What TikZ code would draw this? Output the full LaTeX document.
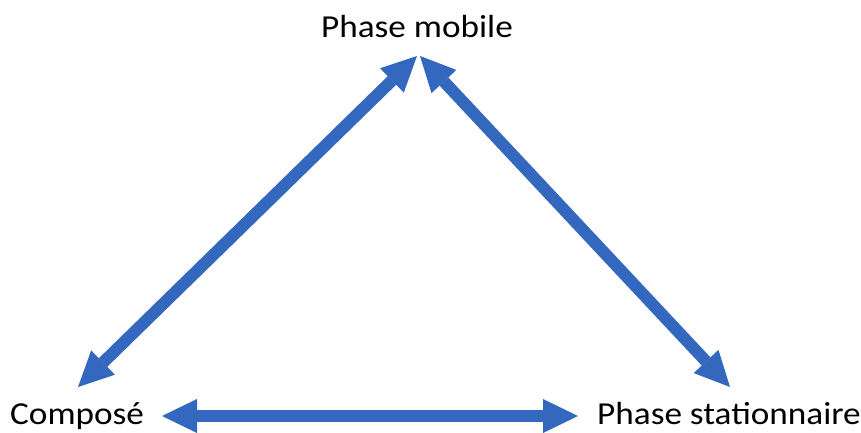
\documentclass[tikz,border=0pt]{standalone}
\usepackage{fontspec}
\setmainfont{Carlito}[FakeStretch=1.1]
\usetikzlibrary{arrows.meta}
\definecolor{arrowblue}{RGB}{52,104,190}
\tikzset{
  lbl/.style={font=\fontsize{32}{37}\selectfont, inner sep=0pt, text=black},
  dbl/.style={draw=arrowblue, line width=12pt,
    {Triangle[length=35pt,width=34pt,line width=0pt]}-{Triangle[length=35pt,width=34pt,line width=0pt]}}
}
\begin{document}
\begin{tikzpicture}[x=1pt,y=-1pt]
\useasboundingbox (0,0) rectangle (861,433);
\node[lbl, anchor=base] (pm) at (417,38) {Phase mobile};
\node[lbl, anchor=base west] (co) at (10,424) {Composé};
\node[lbl, anchor=base west] (ps) at (597,424) {Phase stationnaire};
\coordinate (pmL) at (417,56);
\coordinate (pmR) at (420,56);
\coordinate (coT) at (78,387);
\coordinate (psT) at (730,387);
\coordinate (coR) at (162,416);
\coordinate (psL) at (578,416);
\draw[dbl] (coT) -- (pmL);
\draw[dbl] (pmR) -- (psT);
\draw[dbl] (coR) -- (psL);
\end{tikzpicture}
\end{document}
